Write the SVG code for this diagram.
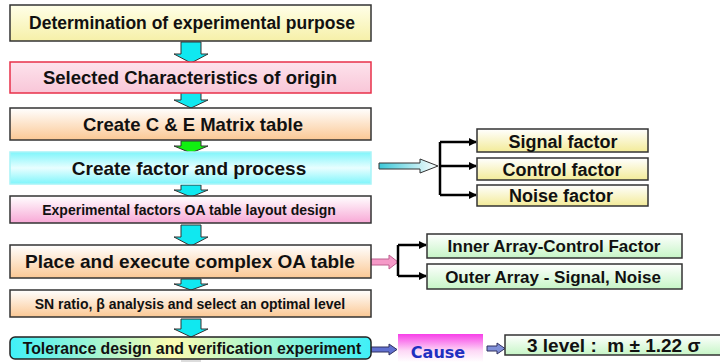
<svg xmlns="http://www.w3.org/2000/svg" width="720" height="362" viewBox="0 0 720 362">
<defs>
<linearGradient id="gYellow" x1="0" y1="0" x2="0" y2="1"><stop offset="0" stop-color="#ffffe8"/><stop offset="1" stop-color="#f6f0a8"/></linearGradient>
<linearGradient id="gPinkRed" x1="0" y1="0" x2="0" y2="1"><stop offset="0" stop-color="#fde3ec"/><stop offset="1" stop-color="#f9c6d8"/></linearGradient>
<linearGradient id="gPeach" x1="0" y1="0" x2="0" y2="1"><stop offset="0" stop-color="#ffffff"/><stop offset="1" stop-color="#fbc894"/></linearGradient>
<linearGradient id="gCyan" x1="0" y1="0" x2="0" y2="1"><stop offset="0" stop-color="#7ff5fb"/><stop offset="0.5" stop-color="#e8feff"/><stop offset="1" stop-color="#7ff5fb"/></linearGradient>
<linearGradient id="gPink" x1="0" y1="0" x2="0" y2="1"><stop offset="0" stop-color="#ffffff"/><stop offset="1" stop-color="#f8a8d6"/></linearGradient>
<linearGradient id="gTol" x1="0" y1="0" x2="1" y2="0"><stop offset="0" stop-color="#3ff0f8"/><stop offset="0.45" stop-color="#fdfbb0"/><stop offset="1" stop-color="#3ff0f8"/></linearGradient>
<linearGradient id="gFactor" x1="0" y1="0" x2="0" y2="1"><stop offset="0" stop-color="#ffffff"/><stop offset="1" stop-color="#f3eb98"/></linearGradient>
<linearGradient id="gGreen" x1="0" y1="0" x2="0" y2="1"><stop offset="0" stop-color="#ffffff"/><stop offset="1" stop-color="#c6f5c6"/></linearGradient>
<linearGradient id="gCause" x1="0" y1="0" x2="0" y2="1"><stop offset="0" stop-color="#f73fe8"/><stop offset="0.6" stop-color="#fdd8f6"/><stop offset="1" stop-color="#ffffff"/></linearGradient>
<linearGradient id="gHollow" x1="0" y1="0" x2="1" y2="0"><stop offset="0" stop-color="#3cc8d8"/><stop offset="1" stop-color="#ffffff"/></linearGradient>
<marker id="ah" markerWidth="8" markerHeight="8" refX="7" refY="4" orient="auto" markerUnits="userSpaceOnUse"><path d="M0,0 L8,4 L0,8 Z" fill="#000"/></marker>
</defs>
<style>
.t{font-family:"Liberation Sans",Arial,sans-serif;font-weight:bold;fill:#111;text-anchor:middle}
.box{stroke:#333;stroke-width:1.5}
.blk{fill:#10e8f0;stroke:#333;stroke-width:1}
.line{fill:none;stroke:#000;stroke-width:2.5}
</style>
<g id="connectors">
<path class="blk" d="M181,42 H201 V54 H208 L191,63 L174,54 H181 Z"/>
<path class="blk" d="M181,92 H201 V100 H208 L191,108 L174,100 H181 Z"/>
<path d="M181,141 H201 V146 H208 L191,153 L174,146 H181 Z" fill="#10f010" stroke="#333" stroke-width="1"/>
<path class="blk" d="M181,185 H201 V190 H208 L191,197 L174,190 H181 Z"/>
<path class="blk" d="M181,225 H201 V237 H208 L191,246 L174,237 H181 Z"/>
<path class="blk" d="M181,279 H201 V284 H208 L191,290 L174,284 H181 Z"/>
<path class="blk" d="M181,319 H201 V329 H208 L191,337 L174,329 H181 Z"/>
<rect x="181" y="359" width="20" height="3" fill="#ddd"/>
<path d="M379,163 H420 V159 L438,166 L420,173 V169 H379 Z" fill="url(#gHollow)" stroke="#333" stroke-width="1"/>
<path class="line" d="M440,142 V195"/>
<path d="M440,142 H476" stroke="#000" stroke-width="2.5" marker-end="url(#ah)"/>
<path d="M440,166 H476" stroke="#000" stroke-width="2.5" marker-end="url(#ah)"/>
<path d="M440,195 H476" stroke="#000" stroke-width="2.5" marker-end="url(#ah)"/>
<path d="M371,259 H389 V255 L398,262 L389,269 V265 H371 Z" fill="#f59ac8" stroke="#c06090" stroke-width="1"/>
<path class="line" d="M398,245 V276"/>
<path d="M398,245 H426" stroke="#000" stroke-width="2.5" marker-end="url(#ah)"/>
<path d="M398,276 H426" stroke="#000" stroke-width="2.5" marker-end="url(#ah)"/>
<path d="M371,347 H389 V344 L397,349.5 L389,355 V352 H371 Z" fill="#6070d0" stroke="#303060" stroke-width="1"/>
<path d="M487,346 H497 V343 L505,348.5 L497,354 V351 H487 Z" fill="#8090d8" stroke="#303060" stroke-width="1"/>
</g>
<g id="n1"><rect class="box" x="10" y="5" width="361" height="36" fill="url(#gYellow)"/><text class="t" x="192" y="29" font-size="17.5">Determination of experimental purpose</text></g>
<g id="n2"><rect x="10" y="62" width="361" height="31" fill="url(#gPinkRed)" stroke="#e8304a" stroke-width="1.5"/><text class="t" x="190" y="84" font-size="18.5">Selected Characteristics of origin</text></g>
<g id="n3"><rect class="box" x="10" y="108" width="361" height="32" fill="url(#gPeach)"/><text class="t" x="193" y="131" font-size="18.5">Create C &amp; E Matrix table</text></g>
<g id="n4"><rect x="10" y="152" width="361" height="32" fill="url(#gCyan)" stroke="#a8f4f8" stroke-width="1.5"/><text class="t" x="189" y="175" font-size="19">Create factor and process</text></g>
<g id="n5"><rect class="box" x="10" y="196" width="361" height="27" fill="url(#gPink)"/><text class="t" x="189" y="215" font-size="14">Experimental factors OA table layout design</text></g>
<g id="n6"><rect class="box" x="10" y="245" width="361" height="33" fill="url(#gPeach)"/><text class="t" x="190" y="268" font-size="19">Place and execute complex OA table</text></g>
<g id="n7"><rect class="box" x="10" y="290" width="361" height="27" fill="url(#gPeach)"/><text class="t" x="190" y="309" font-size="14">SN ratio, β analysis and select an optimal level</text></g>
<g id="n8"><rect x="10" y="337" width="361" height="22" rx="5" fill="url(#gTol)" stroke="#222" stroke-width="1.5"/><text class="t" x="192" y="354" font-size="15.8">Tolerance design and verification experiment</text></g>
<g id="n9"><rect class="box" x="477" y="129" width="171" height="23" fill="url(#gFactor)"/><text class="t" x="563" y="148" font-size="18">Signal factor</text></g>
<g id="n10"><rect class="box" x="477" y="158" width="171" height="22" fill="url(#gFactor)"/><text class="t" x="562" y="176" font-size="18">Control factor</text></g>
<g id="n11"><rect class="box" x="477" y="185" width="171" height="21" fill="url(#gFactor)"/><text class="t" x="561" y="202" font-size="18">Noise factor</text></g>
<g id="n12"><rect class="box" x="427" y="234" width="255" height="24" fill="url(#gGreen)"/><text class="t" x="554" y="252" font-size="17">Inner Array-Control Factor</text></g>
<g id="n13"><rect class="box" x="427" y="264" width="255" height="25" fill="url(#gGreen)"/><text class="t" x="553" y="283" font-size="17">Outer Array - Signal, Noise</text></g>
<g id="n14"><rect x="398" y="334" width="85" height="28" fill="url(#gCause)"/><text x="438" y="358" font-size="16" text-anchor="middle" font-weight="bold" font-family="DejaVu Sans, sans-serif" fill="#2030c0">Cause</text></g>
<g id="n15"><rect class="box" x="505" y="335" width="220" height="20" fill="url(#gGreen)"/><text class="t" x="527" y="352" font-size="19" style="text-anchor:start;white-space:pre" xml:space="preserve">3 level :  m ± 1.22 σ</text></g>
</svg>
